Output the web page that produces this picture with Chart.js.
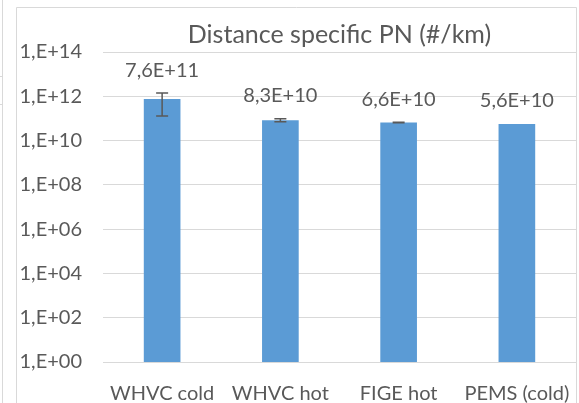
<!DOCTYPE html>
<html>
<head>
<meta charset="utf-8">
<script src="https://cdn.jsdelivr.net/npm/chart.js@4/dist/chart.umd.min.js"></script>
<style>
  html, body { margin: 0; padding: 0; background: #fff; }
  #wrap { position: relative; width: 579px; height: 403px; }
</style>
</head>
<body>
<div id="wrap"><canvas id="myChart" width="579" height="403"></canvas></div>
<script>
const categories = ["WHVC cold", "WHVC hot", "FIGE hot", "PEMS (cold)"];
const pnValues = [7.6e11, 8.3e10, 6.6e10, 5.6e10];
const pnErrors = [6.3e11, 1.3e10, 1.5e9, 0];
const valueLabels = ["7,6E+11", "8,3E+10", "6,6E+10", "5,6E+10"];
const tickValues = [1, 1e2, 1e4, 1e6, 1e8, 1e10, 1e12, 1e14];
const titleText = "Distance specific PN (#/km)";

const FONT = "Lato, 'Liberation Sans', sans-serif";
const TEXT = "#595959";

// frame of the chart box plus the sheet lines to its left
const framePlugin = {
  id: "frame",
  beforeDraw(chart) {
    const c = chart.ctx;
    c.save();
    c.fillStyle = "#fff";
    c.fillRect(0, 0, chart.width, chart.height);
    c.strokeStyle = "#d9d9d9";
    c.lineWidth = 1;
    c.beginPath();
    c.moveTo(16.5, chart.height + 2);
    c.lineTo(16.5, 7.5);
    c.lineTo(576.5, 7.5);
    c.lineTo(576.5, chart.height + 2);
    c.stroke();
    c.beginPath();
    c.moveTo(2.5, 0);
    c.lineTo(2.5, chart.height);
    c.moveTo(0, 76.5); c.lineTo(3, 76.5);
    c.moveTo(0, 104.5); c.lineTo(3, 104.5);
    c.stroke();
    c.restore();
  }
};

// error bars, value labels and title
const extrasPlugin = {
  id: "extras",
  afterDatasetsDraw(chart) {
    const c = chart.ctx;
    const y = chart.scales.y;
    const meta = chart.getDatasetMeta(0);
    c.save();
    c.strokeStyle = "#595959";
    c.lineWidth = 1.5;
    meta.data.forEach((bar, i) => {
      const err = pnErrors[i];
      const hi = y.getPixelForValue(pnValues[i] + err);
      const lo = y.getPixelForValue(Math.max(pnValues[i] - err, 1));
      if (err > 0) {
        c.beginPath();
        c.moveTo(bar.x, hi); c.lineTo(bar.x, lo);
        c.moveTo(bar.x - 6, hi); c.lineTo(bar.x + 6, hi);
        c.moveTo(bar.x - 6, lo); c.lineTo(bar.x + 6, lo);
        c.stroke();
      }
      const top = Math.min(bar.y, hi);
      c.fillStyle = TEXT;
      c.font = "20px " + FONT;
      c.textAlign = "center";
      c.textBaseline = "middle";
      c.fillText(valueLabels[i], bar.x, top - 23);
    });
    const area = chart.chartArea;
    c.font = "25px " + FONT;
    c.fillText(titleText, (area.left + area.right) / 2, 35);
    c.restore();
  }
};

new Chart(document.getElementById("myChart").getContext("2d"), {
  type: "bar",
  data: {
    labels: categories,
    datasets: [{
      data: pnValues,
      backgroundColor: "#5b9bd5",
      borderWidth: 0,
      barPercentage: 0.31,
      categoryPercentage: 1
    }]
  },
  options: {
    responsive: false,
    animation: false,
    layout: { padding: { top: 52, right: 3, left: 0, bottom: 0 } },
    plugins: { legend: { display: false }, tooltip: { enabled: false } },
    scales: {
      x: {
        grid: { display: false },
        border: { display: false },
        ticks: { color: TEXT, font: { family: FONT, size: 20 }, padding: 12, maxRotation: 0 },
        afterFit(scale) {
          scale.height = 41;
          scale.paddingLeft = 0;
          scale.paddingRight = 0;
        }
      },
      y: {
        type: "logarithmic",
        min: 1,
        max: 1e14,
        grid: { color: "#d9d9d9", lineWidth: 1, drawTicks: false },
        border: { display: false },
        afterBuildTicks(scale) { scale.ticks = tickValues.map(v => ({ value: v })); },
        ticks: {
          color: TEXT,
          font: { family: FONT, size: 20 },
          padding: 21,
          callback: v => "1,E+" + String(Math.round(Math.log10(v))).padStart(2, "0")
        },
        afterFit(scale) { scale.width = 103; }
      }
    }
  },
  plugins: [framePlugin, extrasPlugin]
});
</script>
</body>
</html>
